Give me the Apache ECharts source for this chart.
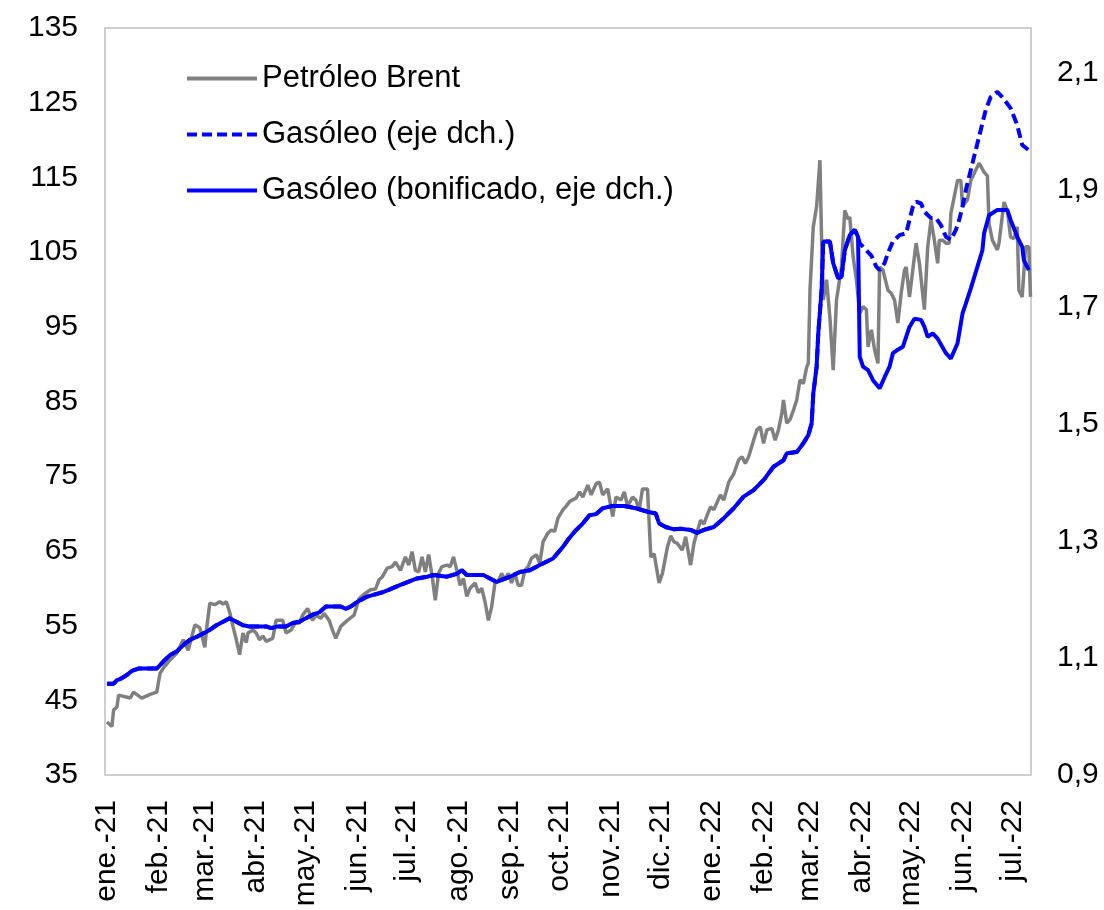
<!DOCTYPE html>
<html>
<head>
<meta charset="utf-8">
<script src="https://cdn.jsdelivr.net/npm/echarts@6/dist/echarts.min.js"></script>
<style>
  html, body { margin: 0; padding: 0; background: #fff; }
  #grafico { width: 1104px; height: 910px; }
</style>
</head>
<body>
<div id="grafico"></div>
<script>
// Eje X en días contados desde el 1 de enero de 2021

// Meses del eje X
const mesesDias = [0, 31, 59, 90, 120, 151, 181, 212, 243, 273, 304, 334, 365, 396, 424, 455, 485, 516, 546];
const mesesEtiquetas = ["ene.-21", "feb.-21", "mar.-21", "abr.-21", "may.-21", "jun.-21", "jul.-21", "ago.-21",
  "sep.-21", "oct.-21", "nov.-21", "dic.-21", "ene.-22", "feb.-22", "mar.-22", "abr.-22", "may.-22", "jun.-22", "jul.-22"];

// Petróleo Brent (eje izq.)
const brentDias = [
  0, 3, 4, 6, 7, 14, 16, 21, 26, 30,
  32, 34, 38, 42, 46, 49, 53, 56, 59, 60,
  62, 65, 68, 70, 72, 74, 76, 78, 80, 82,
  84, 85, 88, 90, 92, 94, 96, 98, 100, 102,
  106, 108, 111, 114, 116, 118, 121, 124, 126, 129,
  131, 134, 136, 138, 141, 145, 149, 152, 155, 159,
  162, 164, 166, 169, 172, 174, 177, 180, 182, 184,
  186, 188, 190, 192, 194, 196, 198, 200, 202, 205,
  207, 209, 211, 213, 215, 217, 219, 222, 224, 226,
  228, 230, 232, 234, 236, 238, 240, 242, 244, 246,
  248, 250, 252, 254, 256, 259, 261, 263, 266, 268,
  270, 272, 275, 277, 279, 283, 285, 287, 290, 292,
  295, 297, 299, 302, 305, 307, 310, 312, 314, 317,
  319, 321, 323, 326, 328, 330, 333, 335, 338, 340,
  342, 344, 347, 349, 352, 354, 356, 358, 360, 362,
  364, 366, 370, 372, 375, 378, 381, 383, 385, 387,
  390, 392, 394, 396, 398, 401, 403, 405, 407, 408,
  410, 412, 414, 416, 418, 420, 422, 423, 424, 426,
  428, 430, 431, 432, 434, 436, 438, 440, 443, 445,
  447, 448, 450, 452, 454, 456, 458, 459, 461, 463,
  465, 466, 468, 471, 473, 475, 477, 479, 481, 482,
  484, 486, 488, 490, 493, 495, 497, 499, 501, 502,
  504, 506, 508, 509, 511, 513, 515, 516, 519, 521,
  524, 526, 527, 529, 531, 532, 534, 537, 538, 541,
  543, 545, 547, 549, 550, 552, 554, 556, 557
];
const brentValores = [
  42.1, 41.5, 43.7, 44.1, 45.7, 45.3, 46.1, 45.3, 45.8, 46.1,
  48.6, 49.3, 50.4, 51.3, 53.1, 51.7, 55.1, 54.7, 52.1, 54.4,
  58.0, 57.8, 58.2, 57.9, 58.2, 56.8, 54.9, 53.1, 51.1, 54.0,
  52.7, 54.0, 54.4, 54.0, 53.1, 53.6, 52.9, 53.1, 53.3, 55.7,
  55.7, 54.0, 54.4, 55.5, 55.3, 56.4, 57.3, 55.7, 56.4, 56.0,
  56.6, 55.7, 54.4, 53.3, 54.9, 55.7, 56.4, 58.6, 59.2, 59.8,
  59.9, 61.1, 61.5, 62.7, 62.9, 63.5, 62.4, 64.2, 63.1, 64.9,
  62.4, 62.2, 64.2, 62.2, 64.5, 61.8, 58.4, 62.0, 62.9, 63.1,
  62.9, 64.2, 62.4, 60.4, 61.3, 58.9, 60.0, 60.7, 59.4, 60.0,
  58.2, 55.7, 57.5, 60.7, 60.9, 62.0, 61.1, 62.0, 60.7, 62.0,
  60.4, 60.4, 62.4, 62.9, 64.0, 64.5, 63.3, 66.2, 67.4, 67.8,
  67.6, 69.4, 70.5, 71.0, 71.6, 72.1, 72.9, 72.2, 73.8, 72.5,
  74.0, 74.2, 72.5, 73.3, 69.6, 72.2, 71.8, 72.9, 71.0, 72.2,
  71.8, 70.5, 73.3, 73.3, 64.2, 64.6, 60.7, 62.0, 65.5, 67.0,
  66.2, 66.0, 65.1, 66.9, 63.1, 66.0, 67.6, 69.1, 68.6, 69.8,
  70.9, 70.5, 72.5, 71.8, 74.2, 75.3, 77.2, 77.6, 76.7, 77.6,
  79.8, 81.2, 81.6, 79.4, 81.2, 81.4, 79.8, 81.2, 83.4, 85.2,
  82.1, 82.6, 83.8, 85.2, 87.9, 87.4, 89.6, 90.1, 99.9, 108.4,
  111.1, 117.3, 106.6, 98.6, 101.3, 96.3, 89.2, 98.6, 103.0, 110.6,
  109.4, 109.7, 104.4, 101.3, 96.8, 97.7, 97.3, 92.3, 94.6, 91.9,
  90.1, 103.0, 102.6, 99.9, 99.5, 98.6, 95.5, 99.5, 102.6, 103.0,
  99.0, 102.6, 106.2, 103.5, 97.3, 105.7, 109.3, 106.6, 103.5, 106.6,
  106.6, 106.2, 106.2, 110.2, 112.4, 114.6, 114.6, 111.1, 112.0, 114.6,
  116.0, 116.9, 116.9, 115.7, 115.2, 108.8, 106.6, 105.3, 106.2, 111.7,
  110.6, 107.0, 106.8, 108.4, 99.9, 99.0, 105.7, 105.7, 99.0
];

// Gasóleo sin bonificar (eje dch.)
const gasoleoDias = [
  0, 4, 6, 8, 12, 15, 19, 30, 34, 38,
  42, 46, 50, 54, 58, 62, 66, 70, 74, 78,
  82, 86, 96, 99, 103, 108, 112, 116, 120, 124,
  128, 132, 141, 144, 147, 151, 157, 167, 177, 187,
  193, 197, 205, 211, 214, 217, 227, 235, 243, 249,
  255, 261, 269, 275, 278, 282, 287, 291, 295, 299,
  305, 312, 319, 326, 331, 333, 337, 342, 346, 352,
  356, 360, 366, 372, 378, 384, 390, 396, 402, 408,
  410, 416, 420, 423, 425, 426, 428, 429, 431, 432,
  436, 438, 441, 443, 445, 448, 451, 453,
  454, 458, 461, 464, 466, 469, 471, 474, 478, 482,
  484, 486, 488, 491, 493, 497, 500, 503, 506, 509,
  512, 514, 516, 518, 522, 525, 530, 533, 537, 540,
  545, 549, 552, 556
];
const gasoleoValores = [
  1.056, 1.056, 1.062, 1.064, 1.071, 1.078, 1.082, 1.082, 1.094, 1.105,
  1.111, 1.122, 1.131, 1.136, 1.142, 1.148, 1.156, 1.162, 1.168, 1.162,
  1.156, 1.154, 1.154, 1.151, 1.154, 1.154, 1.160, 1.162, 1.168, 1.174,
  1.178, 1.188, 1.188, 1.184, 1.188, 1.196, 1.205, 1.213, 1.225, 1.236,
  1.239, 1.242, 1.239, 1.244, 1.250, 1.242, 1.242, 1.230, 1.239, 1.247,
  1.250, 1.259, 1.270, 1.290, 1.302, 1.316, 1.330, 1.344, 1.346, 1.356,
  1.360, 1.360, 1.356, 1.350, 1.347, 1.330, 1.324, 1.320, 1.321, 1.319,
  1.314, 1.319, 1.324, 1.339, 1.356, 1.376, 1.387, 1.404, 1.427, 1.438,
  1.450, 1.452, 1.467, 1.481, 1.501, 1.552, 1.598, 1.655, 1.729, 1.812,
  1.812, 1.775, 1.749, 1.752, 1.797, 1.823, 1.832, 1.820,
  1.809, 1.797, 1.788, 1.769, 1.763, 1.775, 1.792, 1.812, 1.823, 1.826,
  1.849, 1.871, 1.880, 1.877, 1.863, 1.852, 1.852, 1.840, 1.820, 1.815,
  1.832, 1.849, 1.872, 1.900, 1.946, 1.980, 2.037, 2.059, 2.068, 2.059,
  2.040, 2.011, 1.977, 1.968
];

// Gasóleo con bonificación, desde el 1 de abril de 2022
const bonifInicio = 454;
const bonifDias = [
  454, 456, 459, 462, 466, 469, 472, 474, 477, 480,
  484, 487, 491, 493, 495, 498, 501, 506, 509, 513,
  516, 518, 521, 525, 528, 529, 532, 537, 543, 545,
  549, 552, 553, 556
];
const bonifValores = [
  1.615, 1.598, 1.592, 1.575, 1.561, 1.580, 1.598, 1.621, 1.627, 1.632,
  1.666, 1.680, 1.678, 1.666, 1.649, 1.655, 1.646, 1.621, 1.612, 1.638,
  1.689, 1.706, 1.732, 1.769, 1.797, 1.826, 1.857, 1.866, 1.866, 1.849,
  1.820, 1.803, 1.780, 1.763
];

function juntar(dias, valores) { return dias.map((d, i) => [d, valores[i]]); }

const serieBrent = juntar(brentDias, brentValores);
const serieGasoleo = juntar(gasoleoDias, gasoleoValores);
const serieBonif = juntar(gasoleoDias.filter(d => d < bonifInicio), gasoleoValores)
  .concat(juntar(bonifDias, bonifValores));

const fuente = 'Arial, "Liberation Sans", sans-serif';
const texto = { color: "#000", fontFamily: fuente, fontSize: 30 };

const chart = echarts.init(document.getElementById("grafico"));
chart.setOption({
  animation: false,
  backgroundColor: "#fff",
  grid: {
    left: 105, right: 73, top: 28, bottom: 135,
    show: true, borderColor: "#bfbfbf", borderWidth: 1.5, backgroundColor: "transparent"
  },
  legend: {
    orient: "vertical",
    left: 180, top: 58,
    itemWidth: 70, itemHeight: 14, itemGap: 25,
    itemStyle: { opacity: 0 },
    lineStyle: { width: 4 },
    textStyle: Object.assign({}, texto, { fontSize: 31, lineHeight: 31 }),
    data: ["Petróleo Brent", "Gasóleo (eje dch.)", "Gasóleo (bonificado, eje dch.)"]
  },
  xAxis: {
    type: "value",
    min: -1.2,
    max: 557.3,
    axisLine: { show: false },
    axisTick: { show: false },
    splitLine: { show: false },
    axisLabel: Object.assign({
      rotate: 90,
      margin: 25,
      customValues: mesesDias,
      formatter: v => {
        const i = mesesDias.indexOf(v);
        return i >= 0 ? mesesEtiquetas[i] : "";
      }
    }, texto)
  },
  yAxis: [
    {
      type: "value", position: "left",
      min: 35, max: 135, interval: 10,
      axisLine: { show: false }, axisTick: { show: false }, splitLine: { show: false },
      axisLabel: Object.assign({ margin: 27 }, texto)
    },
    {
      type: "value", position: "right",
      min: 0.9, max: 2.177, interval: 0.2,
      axisLine: { show: false }, axisTick: { show: false }, splitLine: { show: false },
      axisLabel: Object.assign({
        margin: 26,
        showMaxLabel: false,
        formatter: v => v.toFixed(1).replace(".", ",")
      }, texto)
    }
  ],
  series: [
    {
      name: "Petróleo Brent", type: "line", yAxisIndex: 0,
      symbol: "none", data: serieBrent,
      lineStyle: { color: "#808080", width: 3.5 },
      itemStyle: { color: "#808080" }
    },
    {
      name: "Gasóleo (eje dch.)", type: "line", yAxisIndex: 1,
      symbol: "none", data: serieGasoleo,
      lineStyle: { color: "#0000ff", width: 4, type: [10, 5] },
      itemStyle: { color: "#0000ff" }
    },
    {
      name: "Gasóleo (bonificado, eje dch.)", type: "line", yAxisIndex: 1,
      symbol: "none", data: serieBonif,
      lineStyle: { color: "#0000ff", width: 4 },
      itemStyle: { color: "#0000ff" }
    }
  ]
});
</script>
</body>
</html>
